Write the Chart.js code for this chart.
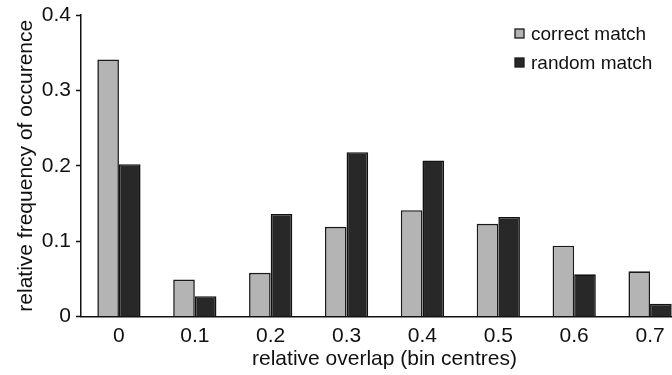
<!DOCTYPE html>
<html>
<head>
<meta charset="utf-8">
<script src="https://cdn.jsdelivr.net/npm/chart.js@4/dist/chart.umd.min.js"></script>
<style>
  html, body { margin: 0; padding: 0; background: #fff; overflow: hidden; }
  #wrap { width: 690px; height: 375px; position: relative; }
</style>
</head>
<body>
<div id="wrap"><canvas id="overlapChart"></canvas></div>
<script>
// bin centres and relative frequencies
var binCentres = ['0', '0.1', '0.2', '0.3', '0.4', '0.5', '0.6', '0.7'];
var correctMatch = [0.341, 0.049, 0.058, 0.119, 0.141, 0.123, 0.094, 0.060];
var randomMatch = [0.202, 0.027, 0.136, 0.218, 0.207, 0.132, 0.056, 0.017];
var yTicks = [0, 0.1, 0.2, 0.3, 0.4];

var fontName = '"Liberation Sans", Arial, Helvetica, sans-serif';

// little legend in the upper right corner, boxes + labels
var cornerLegend = {
    id: 'cornerLegend',
    afterDraw: function (chart) {
        var c = chart.ctx;
        c.save();
        c.font = '19px ' + fontName;
        c.textBaseline = 'middle';
        chart.data.datasets.forEach(function (ds, i) {
            var y = 34 + i * 29;
            c.fillStyle = ds.backgroundColor;
            c.strokeStyle = '#1a1a1a';
            c.lineWidth = 1.3;
            c.fillRect(515, y - 5, 9, 9);
            c.strokeRect(515, y - 5, 9, 9);
            c.fillStyle = '#111';
            c.fillText(ds.label, 531, y + 1);
        });
        c.restore();
    }
};

var ctx = document.getElementById('overlapChart');
var myChart = new Chart(ctx, {
    type: 'bar',
    data: {
        labels: binCentres,
        datasets: [{
            label: 'correct match',
            data: correctMatch,
            backgroundColor: '#b4b4b4',
            borderColor: '#1a1a1a',
            borderWidth: 1.6
        }, {
            label: 'random match',
            data: randomMatch,
            backgroundColor: '#282828',
            borderColor: '#111',
            borderWidth: 1.6
        }]
    },
    options: {
        responsive: true,
        maintainAspectRatio: false,
        animation: false,
        layout: { padding: { top: 0, right: 2, left: 0, bottom: 0 } },
        datasets: {
            bar: { categoryPercentage: 0.57, barPercentage: 1 }
        },
        plugins: {
            legend: { display: false },
            tooltip: { enabled: false }
        },
        scales: {
            x: {
                afterFit: function (scale) { scale.height = 58.5; },
                grid: { display: false, drawTicks: false },
                border: { color: '#111', width: 1.5 },
                ticks: {
                    color: '#111',
                    padding: 7,
                    font: { family: fontName, size: 21 }
                },
                title: {
                    display: true,
                    text: 'relative overlap (bin centres)',
                    color: '#111',
                    padding: { top: 0, bottom: 3 },
                    font: { family: fontName, size: 21 }
                }
            },
            y: {
                min: 0,
                max: 0.4,
                afterBuildTicks: function (scale) {
                    scale.ticks = yTicks.map(function (v) { return { value: v }; });
                },
                afterFit: function (scale) {
                    scale.width = 81;
                    scale.paddingTop = 15;
                },
                grid: {
                    display: true,
                    drawOnChartArea: false,
                    drawTicks: true,
                    tickLength: 5,
                    tickWidth: 1.5,
                    tickColor: '#111'
                },
                border: { color: '#111', width: 1.5 },
                ticks: {
                    color: '#111',
                    padding: 5,
                    font: { family: fontName, size: 21 },
                    callback: function (v) { return String(v); }
                },
                title: {
                    display: true,
                    text: 'relative frequency of occurence',
                    color: '#111',
                    padding: { top: 14, bottom: 0 },
                    font: { family: fontName, size: 21 }
                }
            }
        }
    },
    plugins: [cornerLegend]
});
</script>
</body>
</html>
